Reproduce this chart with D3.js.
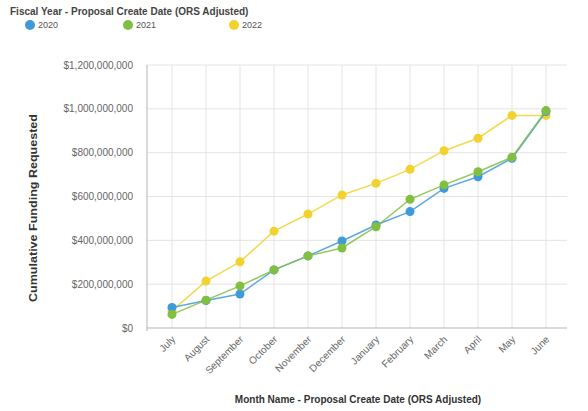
<!DOCTYPE html>
<html>
<head>
<meta charset="utf-8">
<script src="https://cdn.jsdelivr.net/npm/d3@7"></script>
<style>
  body { margin: 0; background: #fff; font-family: "Liberation Sans", Arial, sans-serif; }
  svg { display: block; }
</style>
</head>
<body>
<div id="chart"></div>
<script>
const months = ["July", "August", "September", "October", "November", "December",
  "January", "February", "March", "April", "May", "June"];
const years = ["2020", "2021", "2022"];
const values2020 = [94e6, 125e6, 155e6, 265e6, 329e6, 397e6, 470e6, 531e6, 637e6, 690e6, 774e6, 988e6];
const values2021 = [62e6, 127e6, 192e6, 265e6, 329e6, 365e6, 462e6, 587e6, 653e6, 713e6, 779e6, 992e6];
const values2022 = [78e6, 214e6, 302e6, 442e6, 520e6, 607e6, 660e6, 724e6, 809e6, 866e6, 970e6, 970e6];
const yTicks = [0, 200e6, 400e6, 600e6, 800e6, 1000e6, 1200e6];

function colorByYear(y) {
  switch (y) {
    case "2020": return "#3f9ad9";
    case "2021": return "#80bf40";
    case "2022": return "#f2d22e";
    default: return "#cccccc";
  }
}

const width = 588, height = 411;
const plot = { left: 147, right: 567, top: 65, bottom: 328 };

const svg = d3.select("#chart").append("svg")
  .attr("width", width)
  .attr("height", height);

const x = d3.scalePoint().domain(months).range([172, 546]);
const y = d3.scaleLinear().domain([0, 1200e6]).range([plot.bottom, plot.top]);

// gridlines
svg.append("g").selectAll("line.h")
  .data(yTicks.slice(1))
  .enter().append("line")
  .attr("x1", plot.left).attr("x2", plot.right)
  .attr("y1", d => y(d)).attr("y2", d => y(d))
  .attr("stroke", "#e4e4e4").attr("stroke-width", 1);

svg.append("g").selectAll("line.v")
  .data(months)
  .enter().append("line")
  .attr("x1", d => x(d)).attr("x2", d => x(d))
  .attr("y1", plot.top).attr("y2", plot.bottom)
  .attr("stroke", "#e4e4e4").attr("stroke-width", 1);

// axis lines
svg.append("line")
  .attr("x1", plot.left).attr("x2", plot.left)
  .attr("y1", plot.top).attr("y2", plot.bottom + 3)
  .attr("stroke", "#b5b5b5");
svg.append("line")
  .attr("x1", plot.left).attr("x2", plot.right)
  .attr("y1", plot.bottom).attr("y2", plot.bottom)
  .attr("stroke", "#b5b5b5");

// y axis labels
const fmt = d3.format("$,.0f");
svg.append("g").selectAll("text")
  .data(yTicks)
  .enter().append("text")
  .attr("x", 133)
  .attr("y", d => y(d))
  .attr("dy", "0.35em")
  .attr("text-anchor", "end")
  .attr("font-size", "10px")
  .attr("fill", "#666")
  .text(d => fmt(d));

// x axis labels
svg.append("g").selectAll("text")
  .data(months)
  .enter().append("text")
  .attr("transform", d => `translate(${x(d) + 4},${plot.bottom + 12}) rotate(-45)`)
  .attr("text-anchor", "end")
  .attr("font-size", "10px")
  .attr("fill", "#666")
  .text(d => d);

// axis titles
svg.append("text")
  .attr("x", 358).attr("y", 403)
  .attr("text-anchor", "middle")
  .attr("font-size", "10px")
  .attr("font-weight", "bold")
  .attr("fill", "#333")
  .text("Month Name - Proposal Create Date (ORS Adjusted)");

svg.append("text")
  .attr("transform", "translate(37,208) rotate(-90)")
  .attr("text-anchor", "middle")
  .attr("font-size", "10.5px")
  .attr("font-weight", "bold")
  .attr("fill", "#333")
  .attr("textLength", 188)
  .attr("lengthAdjust", "spacingAndGlyphs")
  .text("Cumulative Funding Requested");

// legend
svg.append("text")
  .attr("x", 10).attr("y", 15)
  .attr("font-size", "10px")
  .attr("font-weight", "bold")
  .attr("fill", "#444")
  .text("Fiscal Year - Proposal Create Date (ORS Adjusted)");

const legendX = [30, 128, 234];
const legend = svg.append("g").selectAll("g")
  .data(years)
  .enter().append("g")
  .attr("transform", (d, i) => `translate(${legendX[i]},25)`);
legend.append("circle").attr("r", 5).attr("fill", d => colorByYear(d));
legend.append("text")
  .attr("x", 8).attr("dy", "0.35em")
  .attr("font-size", "9px")
  .attr("fill", "#555")
  .text(d => d);

// series
const series = [
  { year: "2022", values: values2022 },
  { year: "2020", values: values2020 },
  { year: "2021", values: values2021 }
];

const line = d3.line()
  .x((d, i) => x(months[i]))
  .y(d => y(d));

series.forEach(s => {
  const g = svg.append("g");
  g.append("path")
    .datum(s.values)
    .attr("fill", "none")
    .attr("stroke", colorByYear(s.year))
    .attr("stroke-opacity", 0.85)
    .attr("stroke-width", 1.5)
    .attr("d", line);
  g.selectAll("circle")
    .data(s.values)
    .enter().append("circle")
    .attr("cx", (d, i) => x(months[i]))
    .attr("cy", d => y(d))
    .attr("r", 4.5)
    .attr("fill", colorByYear(s.year));
});
</script>
</body>
</html>
